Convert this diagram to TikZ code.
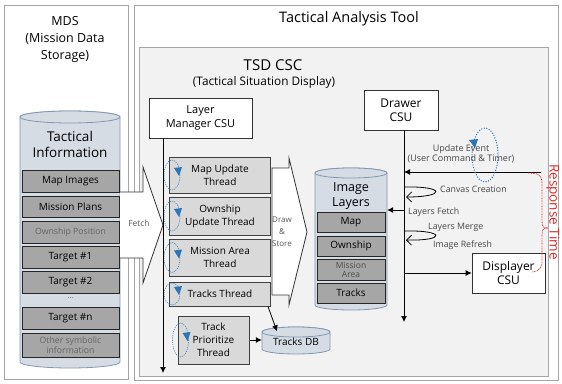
\documentclass[tikz,border=0pt]{standalone}
\usepackage{fontspec}
\setmainfont{Open Sans}
\usetikzlibrary{arrows.meta}

\definecolor{panelgray}{RGB}{242,242,242}
\definecolor{framegray}{RGB}{165,165,165}
\definecolor{cylfill}{RGB}{214,220,228}
\definecolor{cyledge}{RGB}{132,151,176}
\definecolor{rowgray}{RGB}{166,166,166}
\definecolor{thgray}{RGB}{217,217,217}
\definecolor{spinblue}{RGB}{46,117,182}
\definecolor{resred}{RGB}{226,40,40}
\definecolor{labgray}{RGB}{70,70,70}

\newcommand{\pxsize}[2]{\fontsize{#1}{#2}\selectfont}

\begin{document}
\begin{tikzpicture}[x=1pt, y=-1pt,
    frame/.style={draw=framegray, line width=0.8pt},
    csu/.style={draw=black!80, fill=white, line width=0.8pt, align=center, inner sep=0pt, font=\pxsize{12}{14}},
    thread/.style={draw=black!75, fill=thgray, line width=1pt, align=center, inner sep=0pt, minimum width=101pt, font=\pxsize{10}{13}},
    inforow/.style={draw=black!85, fill=rowgray, line width=0.8pt, inner sep=0pt, minimum width=97pt, minimum height=22pt, font=\pxsize{10}{11}},
    faintrow/.style={inforow, text=black!60, align=center, font=\pxsize{8.7}{10}},
    layerrow/.style={inforow, minimum width=68pt, minimum height=20pt, font=\pxsize{10}{11}},
    cyl/.style={draw=cyledge, fill=cylfill, line width=0.8pt},
    spin/.style={draw=spinblue, dash pattern=on 1.2pt off 1pt, line width=0.5pt},
    spintip/.style={fill=spinblue},
    note/.style={text=labgray, inner sep=0pt, font=\pxsize{8.8}{10}},
    flow/.style={-{Latex[length=6pt,width=6pt]}, line width=0.8pt},
    selfloop/.style={-{Straight Barb[length=5pt,width=10pt]}, line width=0.8pt},
    bigarrow/.style={fill=white, draw=black!80, line width=0.8pt}
  ]
  \useasboundingbox (0,0) rectangle (562,383);

  % frames
  \draw[frame, fill=white] (4,5) rectangle (128,379);
  \draw[frame, fill=white] (134,5) rectangle (558,380);
  \draw[frame, fill=panelgray] (139,47) rectangle (548,376);

  \node[align=center, font=\pxsize{12.5}{17}] (mds) at (65,39) {MDS\\(Mission Data\\Storage)};
  \node[font=\pxsize{14.5}{16}] (tat) at (349,19) {Tactical Analysis Tool};
  \node[font=\pxsize{15}{17}] (tsd) at (273,65) {TSD CSC};
  \node[font=\pxsize{11.8}{13}] (tsdsub) at (264,82) {(Tactical Situation Display)};

  % Tactical Information storage
  \filldraw[cyl] (20,117) -- (20,362) arc[start angle=180, end angle=0, x radius=50, y radius=6]
    -- (120,117) arc[start angle=0, end angle=-180, x radius=50, y radius=6] -- cycle;
  \filldraw[cyl] (70,117) ellipse[x radius=50, y radius=6];
  \node[align=center, font=\pxsize{13.5}{16}] (tinfo) at (70,144) {Tactical\\Information};

  \node[inforow] (mapimg) at (70.5,181) {Map Images};
  \node[inforow, minimum height=21pt] (misplan) at (70.5,206.5) {Mission Plans};
  \node[faintrow] (ownpos) at (70.5,232) {Ownship Position};
  \node[inforow] (tgt1) at (70.5,257) {Target \#1};
  \node[inforow] (tgt2) at (70.5,282) {Target \#2};
  \node[text=black!60, font=\pxsize{7.5}{8}] (tdots) at (70.5,298) {...};
  \node[inforow] (tgtn) at (70.5,318) {Target \#n};
  \node[faintrow, minimum height=24pt] (othinfo) at (70.5,345) {Other symbolic\\information};

  % fetch arrow
  \filldraw[bigarrow] (120,192) -- (143,192) -- (143,167) -- (163,225) -- (143,283) -- (143,258) -- (120,258);
  \node[note, text=black!65, font=\pxsize{8.5}{9}] (fetch) at (139,223) {Fetch};

  % layer manager and threads
  \node[csu, minimum width=103pt, minimum height=40pt, font=\pxsize{11}{14}] (lm) at (200.5,118) {Layer\\Manager CSU};
  \coordinate (lmend) at (163,373);
  \draw[flow] (lm.south -| lmend) -- (lmend);

  \node[thread, minimum height=36pt] (mapth) at (220,175) {Map Update\\Thread};
  \node[thread, minimum height=38pt] (ownth) at (220,216) {Ownship\\Update Thread};
  \node[thread, minimum height=37pt] (misth) at (220,257.5) {Mission Area\\Thread};
  \node[thread, minimum height=24pt] (trkth) at (220,294) {Tracks Thread};
  \node[thread, minimum width=71pt, minimum height=48pt] (prith) at (213.5,340) {Track\\Prioritize\\Thread};

  \foreach \th/\ry in {mapth/15, ownth/15, misth/15, trkth/11, prith/17} {
    \draw[spin] ([xshift=3pt]\th.west) ellipse[x radius=8, y radius=\ry];
    \fill[spintip] ([shift={(5,-7)}]\th.west) -- ++(8,-1) -- ++(-3,9) -- cycle;
  }

  % draw & store arrow
  \filldraw[bigarrow] (272,168) -- (289,168) -- (289,158) -- (307,232) -- (289,305) -- (289,295) -- (272,295) -- cycle;
  \node[note, align=center, text=black!65, font=\pxsize{8}{12}] (drst) at (282,232) {Draw\\\&\\Store};

  % tracks DB
  \filldraw[cyl] (262,332) -- (262,349) arc[start angle=180, end angle=0, x radius=34, y radius=5]
    -- (330,332) arc[start angle=0, end angle=-180, x radius=34, y radius=5] -- cycle;
  \filldraw[cyl] (296,332) ellipse[x radius=34, y radius=5];
  \node[inner sep=0pt, minimum width=68pt, minimum height=21pt, font=\pxsize{10}{11}] (tdb) at (296,342) {Tracks DB};
  \draw[flow] ([xshift=-3pt]trkth.south east) -- ([xshift=-19pt]tdb.north);
  \draw[flow] (prith.east) -- (tdb.west |- prith.east);

  % image layers
  \filldraw[cyl] (315,173) -- (315,305) arc[start angle=180, end angle=0, x radius=36, y radius=5]
    -- (387,173) arc[start angle=0, end angle=-180, x radius=36, y radius=5] -- cycle;
  \filldraw[cyl] (351,173) ellipse[x radius=36, y radius=5];
  \node[inner sep=0pt, minimum width=72pt, minimum height=137pt] (imgl) at (351,241.5) {};
  \node[align=center, font=\pxsize{12.5}{15}] (imgt) at (351,196) {Image\\Layers};

  \node[layerrow] (lmap) at (351,222) {Map};
  \node[layerrow] (lown) at (351,246) {Ownship};
  \node[layerrow, minimum height=21pt, align=center, text=black!70, font=\pxsize{8.5}{8.5}] (lmis) at (351,270) {Mission\\Area};
  \node[layerrow] (ltrk) at (351,293) {Tracks};

  % drawer and displayer
  \node[csu, minimum width=74pt, minimum height=40pt] (drawer) at (401,110) {Drawer\\CSU};
  \node[csu, minimum width=73pt, minimum height=40pt] (displayer) at (508.5,273) {Displayer\\CSU};
  \coordinate (dend) at (404,322);
  \draw[flow] (drawer.south -| dend) -- (dend);

  \coordinate (uestart) at (541,172);
  \draw[flow] (uestart) -- (uestart -| dend);
  \draw[draw=spinblue, line width=1.4pt, line cap=round, dash pattern=on 0pt off 2.6pt] (485,155) ellipse[x radius=13, y radius=27];
  \fill[spintip] (469,140) -- (478,139) -- (475,148) -- cycle;
  \node[note, align=center, font=\pxsize{9}{10.5}] (uevent) at (461,154) {Update Event\\(User Command \& Timer)};

  \draw[selfloop] (404,187) .. controls (446,186) and (446,197) .. (406,197);
  \node[note, anchor=west] (ccre) at (440,189) {Canvas Creation};

  \draw[flow] (dend |- 0,210) -- (imgl.east |- 0,210);
  \node[note, anchor=west] (lfetch) at (408,212) {Layers Fetch};

  \draw[selfloop] (404,231) .. controls (446,230) and (446,241) .. (406,240);
  \node[note, anchor=west] (lmerge) at (428,227) {Layers Merge};
  \node[note, anchor=west] (irefresh) at (433,245) {Image Refresh};

  \draw[flow] (dend |- displayer.west) -- (displayer.west);

  % response time
  \draw[resred, line width=0.8pt, dash pattern=on 0.8pt off 0.8pt] (528,173) .. controls (540,173) and (542,176) .. (542,184)
    -- (542,222) .. controls (542,227) and (544,228) .. (548,228) .. controls (544,228) and (542,229) .. (542,234)
    -- (542,260) .. controls (542,268) and (540,271) .. (532,272);
  \node[rotate=-90, text=resred, inner sep=0pt, font=\pxsize{13.5}{14}] (rtime) at (553,212) {Response Time};
\end{tikzpicture}
\end{document}
